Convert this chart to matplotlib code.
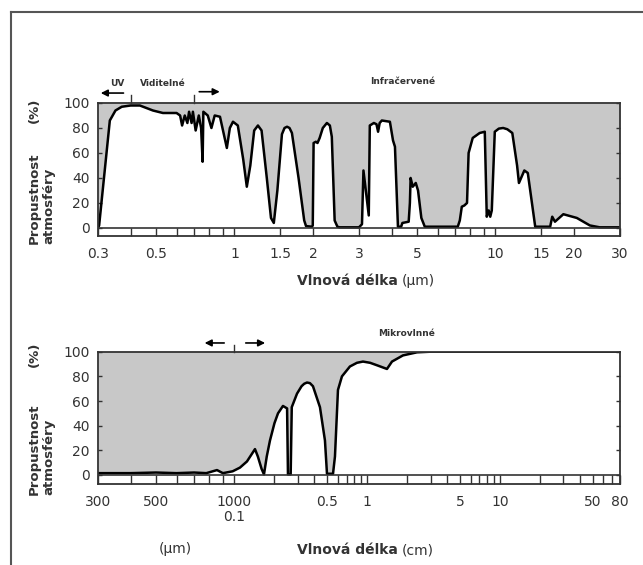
import numpy as np
import matplotlib
matplotlib.use("Agg")
import matplotlib.pyplot as plt
from matplotlib.lines import Line2D

# horni graf: 0.3 - 30 um
ir_wl = [0.3, 0.303, 0.333, 0.35, 0.37, 0.40, 0.434, 0.487, 0.532, 0.60, 0.619, 0.63, 0.645,
         0.66, 0.67, 0.685, 0.693, 0.71, 0.73, 0.745, 0.755, 0.76, 0.79, 0.816, 0.84, 0.88,
         0.935, 0.96, 0.987, 1.03, 1.08, 1.115, 1.15, 1.19, 1.23, 1.27, 1.33, 1.38, 1.415,
         1.46, 1.52, 1.555, 1.59, 1.625, 1.66, 1.76, 1.85, 1.88, 1.98, 1.995, 2.01, 2.05,
         2.08, 2.12, 2.18, 2.26, 2.32, 2.36, 2.42, 2.48, 2.53, 3.0, 3.08, 3.12, 3.27, 3.3,
         3.42, 3.5, 3.55, 3.6, 3.67, 3.94, 4.05, 4.12, 4.23, 4.35, 4.4, 4.65, 4.7, 4.73, 4.82,
         4.95, 5.05, 5.2, 5.36, 7.17, 7.3, 7.43, 7.6, 7.78, 7.89, 8.18, 8.7, 9.1, 9.26, 9.42,
         9.55, 9.68, 9.94, 10.3, 10.7, 11.1, 11.6, 12.1, 12.3, 12.9, 13.3, 14.2, 16.2, 16.5,
         16.9, 18.2, 20.5, 23.0, 25.1, 30.0]
ir_tr = [0, 2, 86, 94, 97, 98, 98, 94, 92, 92, 90, 82, 90,
         84, 93, 84, 93, 78, 90, 80, 53, 93, 90, 80, 90, 89,
         64, 80, 85, 82, 55, 33, 50, 78, 82, 78, 40, 8, 4,
         30, 75, 80, 81, 80, 76, 40, 6, 1.5, 1, 2, 68, 69,
         68, 72, 80, 84, 82, 73, 6, 1, 0.5, 0.5, 3, 46, 10, 82,
         84, 83, 77, 84, 86, 85, 70, 65, 1, 1, 4, 5, 20, 40, 33,
         36, 30, 8, 1, 1, 6, 17, 18, 20, 60, 72, 76, 77, 9, 14,
         9, 14, 77, 79.5, 80, 79, 76, 50, 36, 46, 44, 1, 1, 9,
         5, 11, 8, 2, 0.5, 0.5]

# dolni graf: 300 um - 80 cm (v um)
mw_wl = [300, 400, 500, 600, 700, 780, 857, 903, 984, 1100, 1242, 1350, 1427, 1500, 1600,
         1668, 1750, 1851, 2000, 2127, 2318, 2490, 2528, 2650, 2700, 2958, 3200, 3350, 3517,
         3700, 3900, 4403, 4801, 4973, 5521, 5711, 6017, 6446, 7400, 8361, 9283, 10500, 11830,
         14070, 15350, 18570, 23680, 30000, 800000]
mw_tr = [1.5, 1.5, 2, 1.5, 2, 1.5, 4, 1.5, 3, 6, 11, 17, 21, 15, 5,
         0.5, 15, 28, 42, 50, 56, 54, 0.5, 0.5, 55, 66, 72, 74, 75,
         74.5, 72, 55, 28, 1, 1, 15, 69, 80, 88, 91, 92, 91, 89,
         86, 92, 97, 99.5, 100, 100]

ir_ticks = [0.3, 0.5, 1, 1.5, 2, 3, 5, 10, 15, 20, 30]
ir_labels = ["0.3", "0.5", "1", "1.5", "2", "3", "5", "10", "15", "20", "30"]
ir_minor = [0.4, 0.6, 0.7, 0.8, 0.9, 4, 6, 7, 8, 9]

mw_ticks = [300, 500, 1000, 5000, 10000, 50000, 100000, 500000, 800000]
mw_labels = ["300", "500", "1000\n0.1", "0.5", "1", "5", "10", "50", "80"]
mw_minor = [400, 600, 700, 800, 900, 2000, 3000, 4000, 6000, 7000, 8000, 9000,
            20000, 30000, 40000, 60000, 70000, 80000, 90000,
            200000, 300000, 400000, 600000, 700000]

GRAY = "#c8c8c8"
DARK = "#333333"
B = 132.8 / 261.0


def fwd(x):
    with np.errstate(all="ignore"):
        lx = np.log10(np.maximum(np.asarray(x, float), 1e-9))
        return np.where(lx <= 3, lx, 3 + (lx - 3) * B)


def inv(y):
    with np.errstate(all="ignore"):
        y = np.asarray(y, float)
        return np.where(y <= 3, 10 ** y, 10 ** (3 + (y - 3) / B))


W, H = 643, 565
fig = plt.figure(figsize=(W / 100, H / 100), dpi=100)

ax1 = fig.add_axes([98 / W, 1 - 235.7 / H, 522 / W, 132.7 / H])
ax2 = fig.add_axes([98 / W, 1 - 484 / H, 522 / W, 132.3 / H])


def style(ax, ybot, band):
    ax.set_ylim(ybot, 100)
    ax.axhline(0, color=DARK, lw=1.2)
    for s in ax.spines.values():
        s.set_color(DARK)
        s.set_linewidth(1.3)
    ax.set_yticks([0, 20, 40, 60, 80, 100])
    ax.tick_params(axis="y", direction="in", length=3, width=1, color=DARK,
                   labelsize=10, labelcolor=DARK, pad=6, right=True)
    ax.tick_params(axis="x", which="both", direction="in", length=band, width=1,
                   color=DARK, labelsize=10, labelcolor=DARK, pad=8)
    ax.tick_params(axis="x", which="minor", labelbottom=False)


# horni panel
ax1.set_xscale("log")
ax1.set_xlim(0.3, 30)
ax1.fill_between(ir_wl, ir_tr, 100, color=GRAY, lw=0)
ax1.plot(ir_wl, ir_tr, color="black", lw=1.8)
ax1.set_xticks(ir_ticks)
ax1.set_xticklabels(ir_labels)
ax1.set_xticks(ir_minor, minor=True)
style(ax1, -6.2, 5.5)

t1 = ax1.get_xaxis_transform()
for xb in [0.4, 0.7]:
    ax1.plot([xb, xb], [1.0, 1.06], color=DARK, lw=1, transform=t1, clip_on=False)
ax1.annotate("", xy=(0.3, 1.075), xytext=(0.385, 1.075), xycoords=t1,
             arrowprops=dict(arrowstyle="-|>", color="black", lw=1.2, mutation_scale=10),
             annotation_clip=False)
ax1.annotate("", xy=(0.9, 1.085), xytext=(0.715, 1.085), xycoords=t1,
             arrowprops=dict(arrowstyle="-|>", color="black", lw=1.2, mutation_scale=10),
             annotation_clip=False)
ax1.text(0.357, 1.15, "UV", transform=t1, ha="center", va="center",
         fontsize=6.5, fontweight="bold", color=DARK)
ax1.text(0.53, 1.15, "Viditelné", transform=t1, ha="center", va="center",
         fontsize=6.5, fontweight="bold", color=DARK)
ax1.text(4.4, 1.16, "Infračervené", transform=t1, ha="center", va="center",
         fontsize=6.5, fontweight="bold", color=DARK)

# dolni panel
ax2.set_xscale("function", functions=(fwd, inv))
ax2.set_xlim(300, 800000)
ax2.fill_between(mw_wl, mw_tr, 100, color=GRAY, lw=0)
ax2.plot(mw_wl, mw_tr, color="black", lw=1.8)
ax2.set_xticks(mw_ticks)
ax2.set_xticklabels(mw_labels, linespacing=1.1)
ax2.set_xticks(mw_minor, minor=True)
style(ax2, -7.3, 6.5)

t2 = ax2.get_xaxis_transform()
ax2.plot([1000, 1000], [1.0, 1.05], color=DARK, lw=1, transform=t2, clip_on=False)
ax2.annotate("", xy=(750, 1.066), xytext=(936, 1.066), xycoords=t2,
             arrowprops=dict(arrowstyle="-|>", color="black", lw=1.2, mutation_scale=10),
             annotation_clip=False)
ax2.annotate("", xy=(1786, 1.066), xytext=(1159, 1.066), xycoords=t2,
             arrowprops=dict(arrowstyle="-|>", color="black", lw=1.2, mutation_scale=10),
             annotation_clip=False)
ax2.text(19900, 1.134, "Mikrovlnné", transform=t2, ha="center", va="center",
         fontsize=6.5, fontweight="bold", color=DARK)

# popisky os
for ytop, ybot in [(98, 244), (342, 495)]:
    fig.text(34.5 / W, 1 - ybot / H, "Propustnost", rotation=90, ha="center", va="bottom",
             fontsize=9.5, fontweight="bold", color=DARK)
    fig.text(34.5 / W, 1 - ytop / H, "(%)", rotation=90, ha="center", va="top",
             fontsize=9.5, fontweight="bold", color=DARK)
    fig.text(48.5 / W, 1 - ybot / H, "atmosféry", rotation=90, ha="center", va="bottom",
             fontsize=9.5, fontweight="bold", color=DARK)

for yl, unit in [(281, "(µm)"), (550, "(cm)")]:
    fig.text(398 / W, 1 - yl / H, "Vlnová délka", ha="right", va="center",
             fontsize=10, fontweight="bold", color=DARK)
    fig.text(402 / W, 1 - yl / H, unit, ha="left", va="center", fontsize=10, color=DARK)
fig.text(175 / W, 1 - 549 / H, "(µm)", ha="center", va="center", fontsize=10, color=DARK)

# ramecek
fy = 1 - 12 / H
fx = 11 / W
fig.add_artist(Line2D([fx, fx], [0, fy], color="#555555", lw=1.5))
fig.add_artist(Line2D([fx, 1], [fy, fy], color="#555555", lw=1.5))

fig.savefig("out.png", dpi=100)
